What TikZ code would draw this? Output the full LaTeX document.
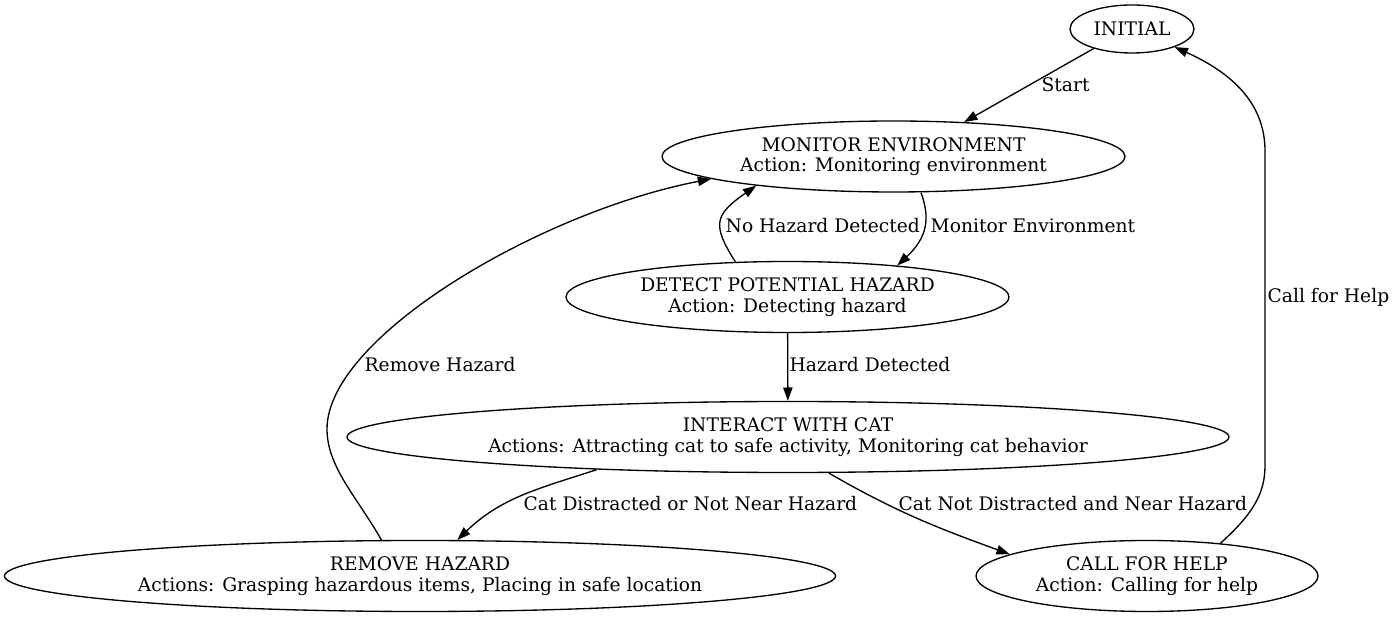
\documentclass[tikz,border=0pt]{standalone}
\usepackage{fontspec}
\setmainfont{DejaVu Serif}
\usetikzlibrary{shapes.geometric,arrows.meta}

\begin{document}
\begin{tikzpicture}[x = 0.75pt, y = 0.75pt, line width = 1pt,
                    >={Triangle[length=10pt,width=7pt]},
                    font = \fontsize{14}{15.5}\selectfont,
                    state/.style = {ellipse, draw, inner sep = 0pt, minimum height = 53.25pt, align = center},
                    cond/.style = {anchor = base west, inner sep = 0pt}]
  \useasboundingbox (0,0) rectangle (1392,617);
  \node [state, minimum width = 93pt, minimum height = 36pt] (S0) at (1132,588) {INITIAL};
  \node [state, minimum width = 347.25pt] (S1) at (893.5,460.5) {MONITOR ENVIRONMENT\\Action: Monitoring environment};
  \node [state, minimum width = 332.25pt] (S2) at (787.5,320) {DETECT POTENTIAL HAZARD\\Action: Detecting hazard};
  \node [state, minimum width = 661.5pt] (S3) at (788,180) {INTERACT WITH CAT\\Actions: Attracting cat to safe activity, Monitoring cat behavior};
  \node [state, minimum width = 623.25pt] (S4) at (420,41) {REMOVE HAZARD\\Actions: Grasping hazardous items, Placing in safe location};
  \node [state, minimum width = 256.5pt] (S5) at (1147,41) {CALL FOR HELP\\Action: Calling for help};

  \node [cond] (L1) at (1041,525) {Start};
  \node [cond] (L2) at (930,384.5) {Monitor Environment};
  \node [cond] (L3) at (725,384.5) {No Hazard Detected};
  \node [cond] (L4) at (789,245) {Hazard Detected};
  \node [cond] (L5) at (364,245) {Remove Hazard};
  \node [cond] (L6) at (523,106.5) {Cat Distracted or Not Near Hazard};
  \node [cond] (L7) at (898,106.5) {Cat Not Distracted and Near Hazard};
  \node [cond] (L8) at (1267,314.5) {Call for Help};

  \draw [->] (S0.207) -- (S1.26);
  \draw [->] ([xshift=20.6pt]S1.south) .. controls (930,400) and (928,380) .. (S2.16);
  \draw [->] (S2.146) .. controls (712,392) and (714,402) .. (S1.192);
  \draw [->] (S2) -- (S3);
  \draw [->] ([xshift=-143.5pt, yshift=2.6pt]S3.south) to [out=198, in=44] (S4.44);
  \draw [->] ([xshift=30.75pt]S3.south) to [out=-30, in=160] (S5.171);
  \draw [->] (S4.137) .. controls (357,120) and (327,150) .. (327,188)
                      .. controls (327,280) and (540,405) .. (S1.187);
  \draw [->] (S5.24) .. controls (1255,105) and (1265,125) .. (1265,152) -- (1265,466)
                     .. controls (1265,515) and (1230,545) .. (S0.-23);
\end{tikzpicture}
\end{document}
